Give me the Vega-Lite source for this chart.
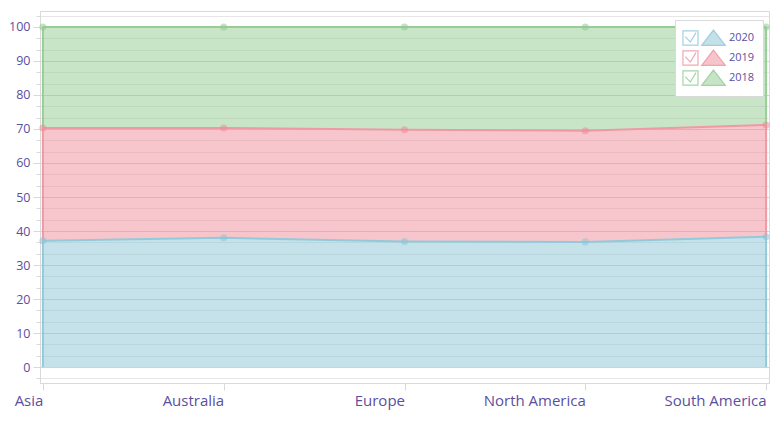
{
  "$schema": "https://vega.github.io/schema/vega-lite/v6.json",
  "width": 729,
  "height": 372,
  "autosize": {"type": "none"},
  "padding": {"left": 40, "top": 11, "right": 10, "bottom": 39},
  "background": "white",
  "config": {
    "view": {"stroke": "#d9d9d9", "strokeWidth": 1},
    "font": "Open Sans"
  },
  "data": {
    "values": [
      {"region": "Asia", "year": "2020", "value": 37.1},
      {"region": "Asia", "year": "2019", "value": 33.2},
      {"region": "Asia", "year": "2018", "value": 29.7},
      {"region": "Australia", "year": "2020", "value": 38.0},
      {"region": "Australia", "year": "2019", "value": 32.3},
      {"region": "Australia", "year": "2018", "value": 29.7},
      {"region": "Europe", "year": "2020", "value": 36.9},
      {"region": "Europe", "year": "2019", "value": 32.9},
      {"region": "Europe", "year": "2018", "value": 30.2},
      {"region": "North America", "year": "2020", "value": 36.8},
      {"region": "North America", "year": "2019", "value": 32.7},
      {"region": "North America", "year": "2018", "value": 30.5},
      {"region": "South America", "year": "2020", "value": 38.3},
      {"region": "South America", "year": "2019", "value": 32.9},
      {"region": "South America", "year": "2018", "value": 28.8}
    ]
  },
  "transform": [
    {"stack": "value", "groupby": ["region"], "as": ["v0", "v1"], "sort": [{"field": "year", "order": "descending"}]}
  ],
  "encoding": {
    "x": {
      "field": "region",
      "type": "ordinal",
      "sort": null,
      "scale": {"type": "point", "padding": 0.016},
      "axis": {
        "title": null,
        "labelAngle": 0,
        "labelAlign": "right",
        "labelBaseline": "top",
        "labelFontSize": 15,
        "labelColor": "#5a4f9f",
        "labelPadding": 3,
        "labelOverlap": false,
        "labelBound": false,
        "tickSize": 7,
        "tickColor": "#d9d9d9",
        "domainColor": "#d9d9d9",
        "grid": false
      }
    }
  },
  "layer": [
    {
      "mark": {"type": "area", "opacity": 0.5},
      "encoding": {
        "y": {
          "field": "v1",
          "type": "quantitative",
          "scale": {"domain": [-4.7, 104.7], "nice": false, "zero": false},
          "axis": {
            "title": null,
            "tickCount": 200,
            "format": ".0f",
            "values": [-3.333, 0, 3.333, 6.667, 10, 13.333, 16.667, 20, 23.333, 26.667, 30, 33.333, 36.667, 40, 43.333, 46.667, 50, 53.333, 56.667, 60, 63.333, 66.667, 70, 73.333, 76.667, 80, 83.333, 86.667, 90, 93.333, 96.667, 100, 103.333],
            "labelExpr": "datum.value % 10 === 0 ? datum.label : ''",
            "labelOverlap": false,
            "labelBound": false,
            "labelFontSize": 12.5,
            "labelColor": "#5a4f9f",
            "labelPadding": 3,
            "domainColor": "#d9d9d9",
            "tickColor": "#d9d9d9",
            "tickSize": {"condition": {"test": "datum.value % 10 === 0", "value": 7}, "value": 4},
            "grid": true,
            "gridColor": {"condition": {"test": "datum.value % 10 === 0", "value": "#d2d2d2"}, "value": "#e6e6e6"}
          }
        },
        "y2": {"field": "v0"},
        "color": {
          "field": "year",
          "type": "nominal",
          "scale": {"domain": ["2020", "2019", "2018"], "range": ["#8bc5d5", "#ed8d99", "#91cb91"]},
          "legend": {
            "title": null,
            "orient": "none",
            "legendX": 635,
            "legendY": 9,
            "padding": 8,
            "rowPadding": -2.5,
            "fillColor": "white",
            "strokeColor": "#d9d9d9",
            "symbolType": "M-0.17,-0.88L1.15,0.82L-1.48,0.82Z",
            "symbolSize": 324,
            "symbolOffset": 22,
            "symbolOpacity": 0.5,
            "symbolStrokeColor": "transparent",
            "symbolStrokeWidth": 1.2,
            "labelOffset": 4,
            "labelFontSize": 11,
            "labelColor": "#5a4f9f"
          }
        }
      }
    },
    {
      "mark": {"type": "line", "strokeWidth": 2},
      "encoding": {
        "y": {"field": "v1", "type": "quantitative"},
        "detail": {"field": "year"},
        "stroke": {
          "field": "year",
          "type": "nominal",
          "sort": "descending",
          "scale": {"range": ["#92cadb", "#ef99a4", "#98cd98"]},
          "legend": {
            "title": null,
            "orient": "none",
            "legendX": 635,
            "legendY": 9,
            "padding": 8,
            "rowPadding": -2.5,
            "symbolType": "M-3.56,-0.8H-1.89V0.8H-3.56Z M-3.3,-0.15L-2.74,0.45L-2.11,-0.6 M-0.17,-0.88L1.15,0.82L-1.48,0.82Z",
            "symbolSize": 324,
            "symbolOffset": 22,
            "symbolFillColor": "transparent",
            "symbolStrokeWidth": 1.2,
            "symbolOpacity": 0.85,
            "labelOffset": 4,
            "labelFontSize": 11,
            "labelExpr": "'\u2003'"
          }
        }
      }
    },
    {
      "transform": [{"filter": {"field": "region", "oneOf": ["Asia", "South America"]}}],
      "mark": {"type": "rule", "strokeWidth": 2},
      "encoding": {
        "y": {"field": "v1", "type": "quantitative"},
        "y2": {"field": "v0"},
        "stroke": {"field": "year", "type": "nominal", "sort": "descending", "legend": null}
      }
    },
    {
      "mark": {"type": "point", "filled": true, "opacity": 0.55, "size": 50},
      "encoding": {
        "y": {"field": "v1", "type": "quantitative"},
        "color": {"field": "year", "type": "nominal", "legend": null}
      }
    }
  ]
}
